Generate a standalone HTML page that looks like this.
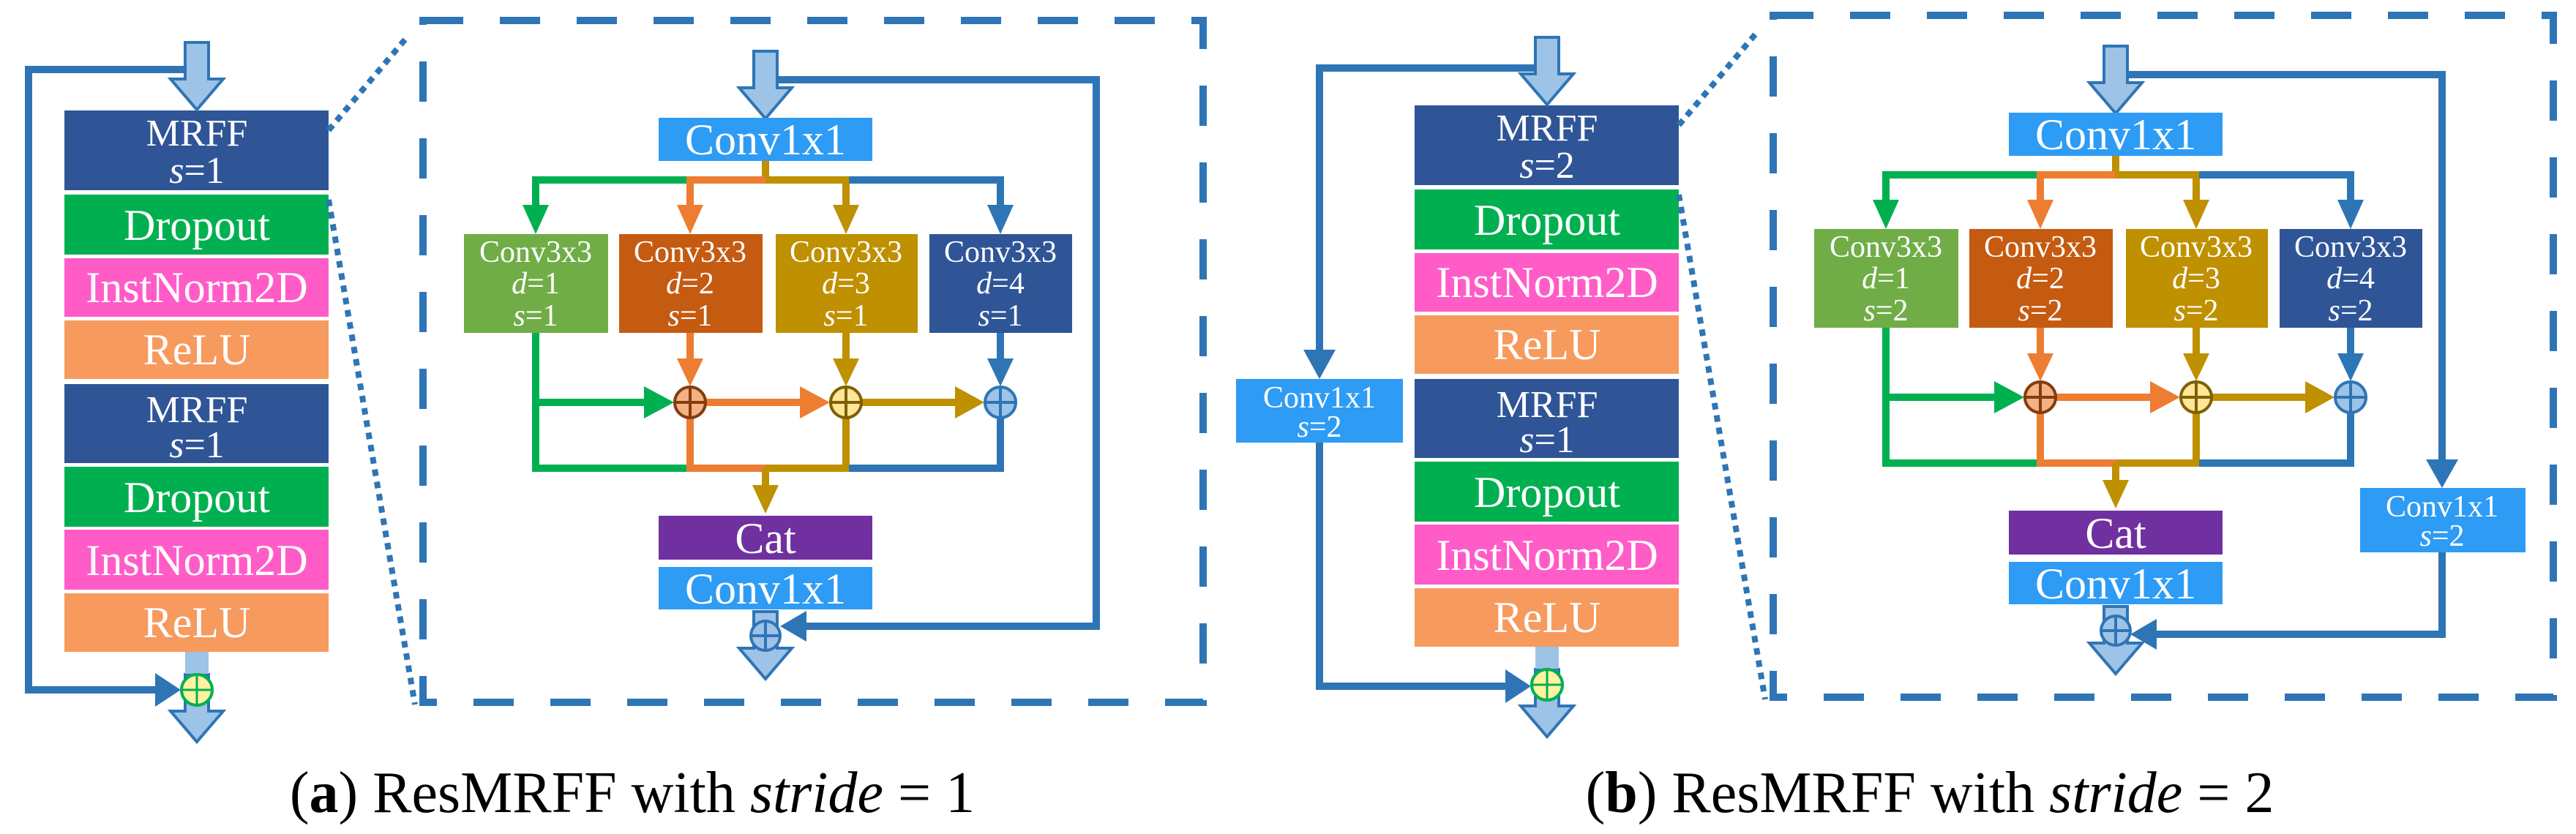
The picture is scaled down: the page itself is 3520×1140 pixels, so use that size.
<!DOCTYPE html>
<html><head><meta charset="utf-8"><style>
html,body{margin:0;padding:0;background:#fff;}
svg{display:block;}
text{font-family:"Liberation Serif",serif;fill:#fff;text-anchor:middle;}
</style></head><body>
<svg width="3520" height="1140" viewBox="0 0 3520 1140" xmlns="http://www.w3.org/2000/svg" font-family="Liberation Serif, serif" text-anchor="middle">
<defs>
<g id="ba"><polygon points="-16,0 16,0 16,50 36,50 0,92 -36,50 -16,50" fill="#9DC3E6" stroke="#2E75B6" stroke-width="4"/></g>
<g id="inner" font-family="Liberation Serif, serif" fill="#fff">
  <rect x="578" y="28" width="1066" height="932" fill="none" stroke="#2E75B6" stroke-width="10" stroke-dasharray="55 50"/>
  <use href="#ba" x="1046" y="70"/>
  <rect x="900" y="161" width="292" height="59" fill="#2E9BF5"/>
  <text x="1046" y="211" font-size="60" fill="#fff" font-family="Liberation Serif, serif">Conv1x1</text>
  <g stroke-width="10" fill="none">
    <line x1="1046" y1="220" x2="1046" y2="246" stroke="#BF9000"/>
    <polyline points="941,246 732,246 732,285" stroke="#00B050"/>
    <polyline points="941,246 1046,246 943,246 943,285" stroke="#ED7D31"/>
    <polyline points="1046,246 1156,246 1156,285" stroke="#BF9000"/>
    <polyline points="1160,246 1367,246 1367,285" stroke="#2E75B6"/>
  </g>
  <polygon points="714,280 750,280 732,320" fill="#00B050"/>
  <polygon points="925,280 961,280 943,320" fill="#ED7D31"/>
  <polygon points="1138,280 1174,280 1156,320" fill="#BF9000"/>
  <polygon points="1349,280 1385,280 1367,320" fill="#2E75B6"/>
  <rect x="634" y="320" width="197" height="135" fill="#70AD47"/>
  <rect x="846" y="320" width="196" height="135" fill="#C55A11"/>
  <rect x="1060" y="320" width="194" height="135" fill="#BF9000"/>
  <rect x="1270" y="320" width="195" height="135" fill="#2F5597"/>
  <g stroke-width="10" fill="none">
    <polyline points="732,455 732,640 941,640" stroke="#00B050"/>
    <line x1="732" y1="550" x2="885" y2="550" stroke="#00B050"/>
    <line x1="943" y1="455" x2="943" y2="495" stroke="#ED7D31"/>
    <polyline points="943,550 943,640 1046,640" stroke="#ED7D31"/>
    <line x1="943" y1="550" x2="1098" y2="550" stroke="#ED7D31"/>
    <line x1="1156" y1="455" x2="1156" y2="495" stroke="#BF9000"/>
    <polyline points="1156,550 1156,640 1046,640" stroke="#BF9000"/>
    <line x1="1156" y1="550" x2="1310" y2="550" stroke="#BF9000"/>
    <line x1="1367" y1="455" x2="1367" y2="495" stroke="#2E75B6"/>
    <polyline points="1367,550 1367,640 1160,640" stroke="#2E75B6"/>
    <line x1="1046" y1="640" x2="1046" y2="668" stroke="#BF9000"/>
  </g>
  <polygon points="880,528 921,550 880,572" fill="#00B050"/>
  <polygon points="1093,528 1134,550 1093,572" fill="#ED7D31"/>
  <polygon points="1305,528 1345,550 1305,572" fill="#BF9000"/>
  <polygon points="925,490 961,490 943,528" fill="#ED7D31"/>
  <polygon points="1138,490 1174,490 1156,528" fill="#BF9000"/>
  <polygon points="1349,490 1385,490 1367,528" fill="#2E75B6"/>
  <polygon points="1028,663 1064,663 1046,702" fill="#BF9000"/>
  <g stroke-width="4">
    <circle cx="943" cy="550" r="21" fill="#F4B183" stroke="#843C0C"/>
    <path d="M922 550H964M943 529V571" stroke="#843C0C"/>
    <circle cx="1156" cy="550" r="21" fill="#FFE699" stroke="#7F6000"/>
    <path d="M1135 550H1177M1156 529V571" stroke="#7F6000"/>
    <circle cx="1367" cy="550" r="21" fill="#9DC3E6" stroke="#2E75B6"/>
    <path d="M1346 550H1388M1367 529V571" stroke="#2E75B6"/>
  </g>
  <rect x="900" y="705" width="292" height="60" fill="#7030A0"/>
  <text x="1046" y="756" font-size="60" fill="#fff" font-family="Liberation Serif, serif">Cat</text>
  <rect x="900" y="775" width="292" height="58" fill="#2E9BF5"/>
  <text x="1046" y="825" font-size="60" fill="#fff" font-family="Liberation Serif, serif">Conv1x1</text>
  <use href="#ba" x="1046" y="836"/>
  <circle cx="1046" cy="869" r="20" fill="#9DC3E6" stroke="#2E75B6" stroke-width="4"/>
  <path d="M1026 869H1066M1046 849V889" stroke="#2E75B6" stroke-width="4"/>
</g>
<g id="stack" font-family="Liberation Serif, serif" fill="#fff">
  <rect x="88" y="151" width="361" height="109" fill="#2F5597"/>
  <rect x="88" y="266" width="361" height="82" fill="#00B050"/>
  <text x="269" y="328" font-size="60" fill="#fff" font-family="Liberation Serif, serif">Dropout</text>
  <rect x="88" y="353" width="361" height="80" fill="#FF5CC8"/>
  <text x="269" y="413" font-size="60" fill="#fff" font-family="Liberation Serif, serif">InstNorm2D</text>
  <rect x="88" y="438" width="361" height="80" fill="#F79A5E"/>
  <text x="269" y="498" font-size="60" fill="#fff" font-family="Liberation Serif, serif">ReLU</text>
  <rect x="88" y="525" width="361" height="108" fill="#2F5597"/>
  <text x="269" y="577" font-size="52" fill="#fff" font-family="Liberation Serif, serif">MRFF</text>
  <text x="269" y="625" font-size="52" fill="#fff" font-family="Liberation Serif, serif"><tspan font-style="italic">s</tspan>=1</text>
  <rect x="88" y="638" width="361" height="82" fill="#00B050"/>
  <text x="269" y="700" font-size="60" fill="#fff" font-family="Liberation Serif, serif">Dropout</text>
  <rect x="88" y="724" width="361" height="82" fill="#FF5CC8"/>
  <text x="269" y="786" font-size="60" fill="#fff" font-family="Liberation Serif, serif">InstNorm2D</text>
  <rect x="88" y="811" width="361" height="80" fill="#F79A5E"/>
  <text x="269" y="871" font-size="60" fill="#fff" font-family="Liberation Serif, serif">ReLU</text>
  <text x="269" y="199" font-size="52" fill="#fff" font-family="Liberation Serif, serif">MRFF</text>
  <line x1="449" y1="178" x2="556" y2="51" stroke="#2E75B6" stroke-width="8" stroke-dasharray="9 8"/>
  <line x1="449" y1="273" x2="567" y2="963" stroke="#2E75B6" stroke-width="8" stroke-dasharray="9 8"/>
  <use href="#ba" x="269" y="58"/>
  <use href="#ba" x="269" y="922"/>
  <rect x="253" y="891" width="32" height="30" fill="#9DC3E6"/>
</g>
</defs>

<!-- Panel a -->
<g stroke="#2E75B6" stroke-width="10" fill="none">
  <polyline points="252,95 39,95 39,943 215,943"/>
  <polyline points="1062,109 1498,109 1498,856 1090,856"/>
</g>
<use href="#stack"/>
<text x="269" y="250" font-size="52"><tspan font-style="italic">s</tspan>=1</text>
<polygon points="212,920 247,943 212,966" fill="#2E75B6"/>
<circle cx="269" cy="943" r="21" fill="#FFF2A0" stroke="#00B050" stroke-width="4"/>
<path d="M248 943H290M269 922V964" stroke="#00B050" stroke-width="3"/>
<use href="#inner"/>
<polygon points="1066,856 1102,835 1102,877" fill="#2E75B6"/>
<g font-size="42">
  <text x="732" y="358" fill="#FFF8D0">Conv3x3</text><text x="732" y="401" fill="#FFF8D0"><tspan font-style="italic">d</tspan>=1</text><text x="732" y="445" fill="#FFF8D0"><tspan font-style="italic">s</tspan>=1</text>
  <text x="943" y="358" fill="#FFF8D0">Conv3x3</text><text x="943" y="401" fill="#FFF8D0"><tspan font-style="italic">d</tspan>=2</text><text x="943" y="445" fill="#FFF8D0"><tspan font-style="italic">s</tspan>=1</text>
  <text x="1156" y="358" fill="#FFF8D0">Conv3x3</text><text x="1156" y="401" fill="#FFF8D0"><tspan font-style="italic">d</tspan>=3</text><text x="1156" y="445" fill="#FFF8D0"><tspan font-style="italic">s</tspan>=1</text>
  <text x="1367" y="358" fill="#FFF8D0">Conv3x3</text><text x="1367" y="401" fill="#FFF8D0"><tspan font-style="italic">d</tspan>=4</text><text x="1367" y="445" fill="#FFF8D0"><tspan font-style="italic">s</tspan>=1</text>
</g>
<text x="864" y="1110" font-size="80" style="fill:#000"><tspan>(</tspan><tspan font-weight="bold">a</tspan><tspan>) ResMRFF with   </tspan><tspan font-style="italic">stride</tspan><tspan> = 1</tspan></text>

<!-- Panel b -->
<g transform="translate(1845,-7)">
  <g stroke="#2E75B6" stroke-width="10" fill="none">
    <polyline points="252,100 -42,100 -42,490"/>
    <polyline points="-42,612 -42,945 215,945"/>
    <polyline points="1062,109 1492,109 1492,640"/>
    <polyline points="1492,760 1492,874 1090,874"/>
  </g>
  <polygon points="-64,485 -20,485 -42,525" fill="#2E75B6"/>
  <rect x="-156" y="525" width="228" height="87" fill="#2E9BF5"/>
  <text x="-42" y="564" font-size="42">Conv1x1</text>
  <text x="-42" y="604" font-size="42"><tspan font-style="italic">s</tspan>=2</text>
  <use href="#stack"/>
  <text x="269" y="250" font-size="52"><tspan font-style="italic">s</tspan>=2</text>
  <polygon points="212,922 247,945 212,968" fill="#2E75B6"/>
  <circle cx="269" cy="943" r="21" fill="#FFF2A0" stroke="#00B050" stroke-width="4"/>
  <path d="M248 943H290M269 922V964" stroke="#00B050" stroke-width="3"/>
  <use href="#inner"/>
  <polygon points="1066,874 1102,853 1102,895" fill="#2E75B6"/>
  <polygon points="1470,635 1514,635 1492,674" fill="#2E75B6"/>
  <rect x="1380" y="674" width="226" height="88" fill="#2E9BF5"/>
  <text x="1492" y="713" font-size="42">Conv1x1</text>
  <text x="1492" y="753" font-size="42"><tspan font-style="italic">s</tspan>=2</text>
  <g font-size="42">
    <text x="732" y="358" fill="#FFF8D0">Conv3x3</text><text x="732" y="401" fill="#FFF8D0"><tspan font-style="italic">d</tspan>=1</text><text x="732" y="445" fill="#FFF8D0"><tspan font-style="italic">s</tspan>=2</text>
    <text x="943" y="358" fill="#FFF8D0">Conv3x3</text><text x="943" y="401" fill="#FFF8D0"><tspan font-style="italic">d</tspan>=2</text><text x="943" y="445" fill="#FFF8D0"><tspan font-style="italic">s</tspan>=2</text>
    <text x="1156" y="358" fill="#FFF8D0">Conv3x3</text><text x="1156" y="401" fill="#FFF8D0"><tspan font-style="italic">d</tspan>=3</text><text x="1156" y="445" fill="#FFF8D0"><tspan font-style="italic">s</tspan>=2</text>
    <text x="1367" y="358" fill="#FFF8D0">Conv3x3</text><text x="1367" y="401" fill="#FFF8D0"><tspan font-style="italic">d</tspan>=4</text><text x="1367" y="445" fill="#FFF8D0"><tspan font-style="italic">s</tspan>=2</text>
  </g>
</g>
<text x="2637" y="1110" font-size="80" style="fill:#000"><tspan>(</tspan><tspan font-weight="bold">b</tspan><tspan>) ResMRFF with   </tspan><tspan font-style="italic">stride</tspan><tspan> = 2</tspan></text>
</svg>
</body></html>
